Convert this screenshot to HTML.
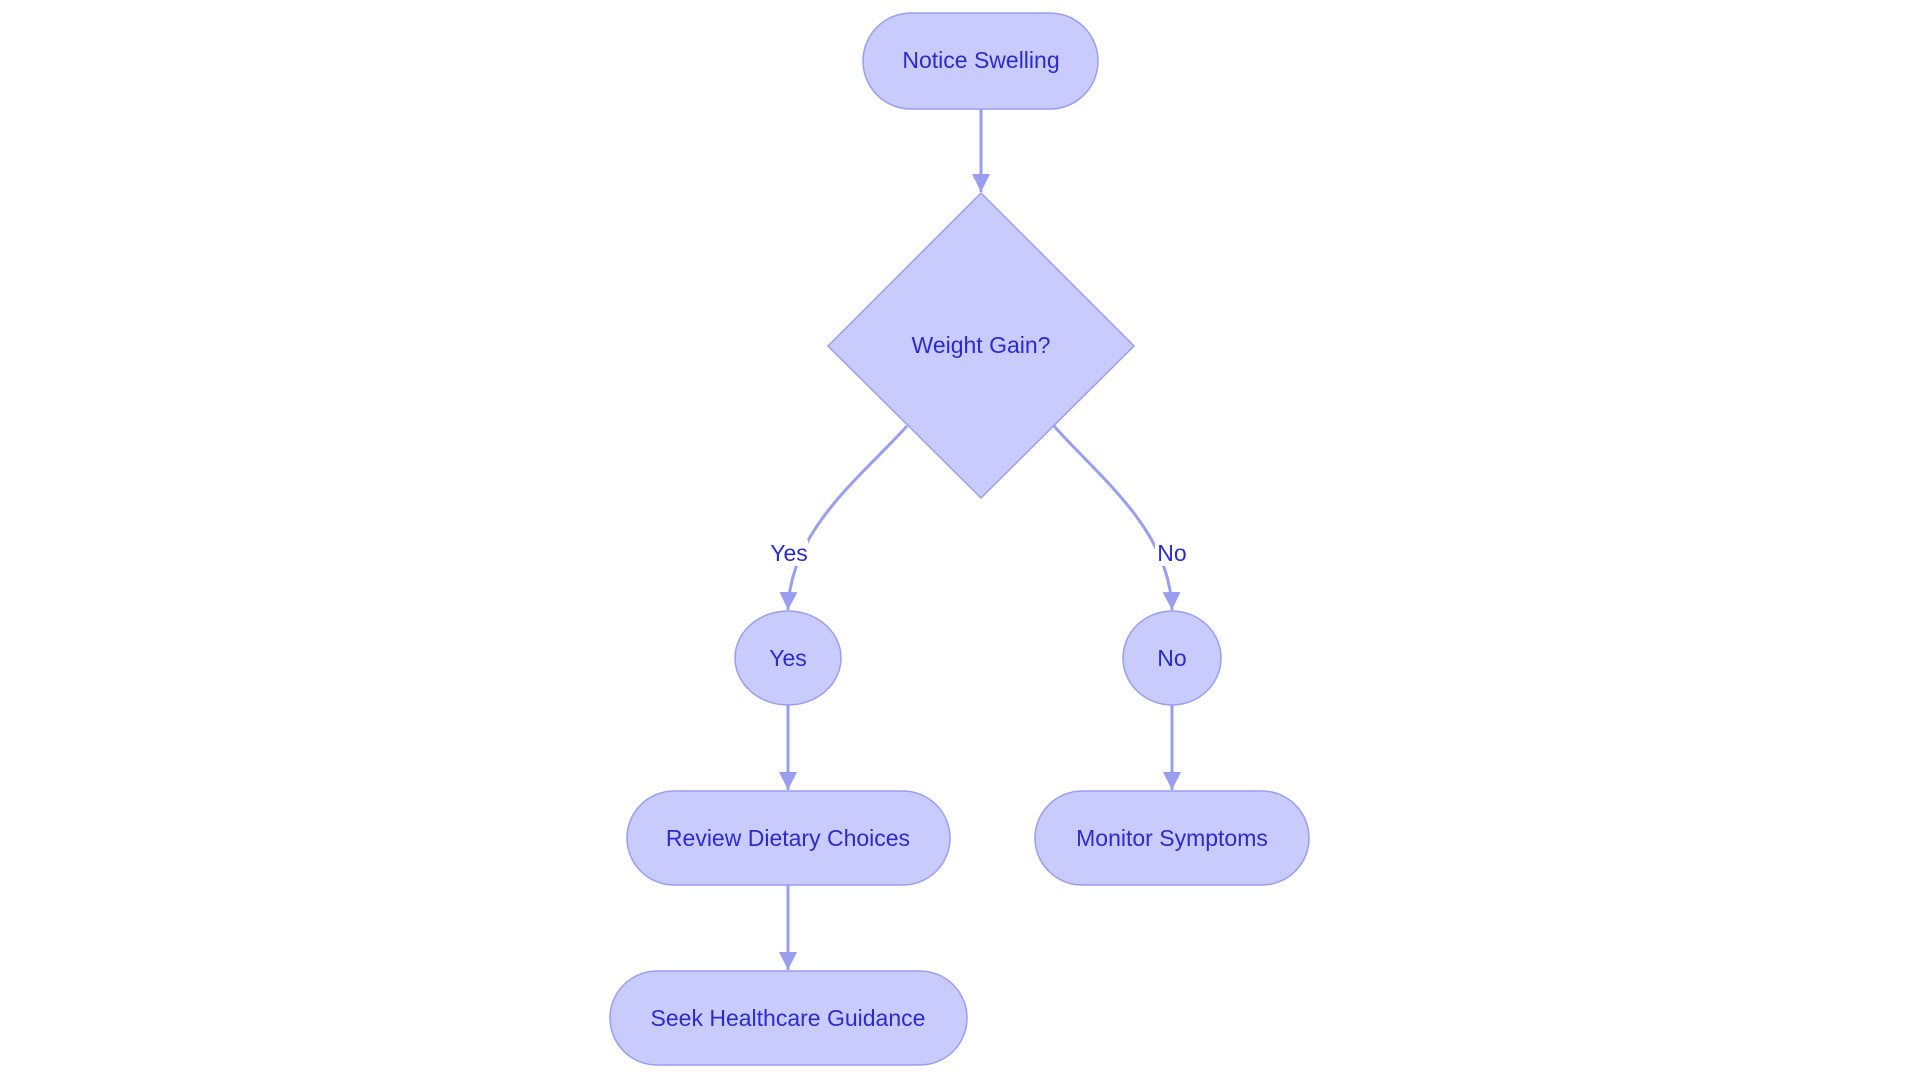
<!DOCTYPE html>
<html><head><meta charset="utf-8"><style>
html,body{margin:0;padding:0;background:#fff;overflow:hidden;}
svg{display:block}
text{font-family:"Liberation Sans",sans-serif;font-size:23px;fill:#2b2bcc;text-anchor:middle;dominant-baseline:central}
.n{fill:#c9cbfd;stroke:#9a9ef0;stroke-width:1.5}
.e{fill:none;stroke:#9a9ef0;stroke-width:3}
</style></head><body>
<svg width="1920" height="1083" viewBox="0 0 1920 1083">
<defs><marker id="a" viewBox="0 0 10 10" refX="10" refY="5" markerWidth="6" markerHeight="6" markerUnits="strokeWidth" orient="auto"><path d="M0,0L10,5L0,10z" fill="#9a9ef0"/></marker></defs>
<path class="e" d="M981,109 L981,192" marker-end="url(#a)"/>
<path class="e" d="M907,426 C860,478 790,530 788,610" marker-end="url(#a)"/>
<path class="e" d="M1054,426 C1100,478 1170,530 1172,610" marker-end="url(#a)"/>
<path class="e" d="M788,705 L788,790" marker-end="url(#a)"/>
<path class="e" d="M1172,705 L1172,790" marker-end="url(#a)"/>
<path class="e" d="M788,885 L788,970" marker-end="url(#a)"/>
<rect x="768" y="540" width="40" height="26" fill="#fff"/>
<rect x="1155" y="540" width="34" height="26" fill="#fff"/>
<text x="789" y="553">Yes</text>
<text x="1172" y="553">No</text>
<rect class="n" x="863" y="13" width="235" height="96" rx="48"/>
<text x="981" y="60">Notice Swelling</text>
<polygon class="n" points="981,193 1134,346 981,498 828,346"/>
<text x="981" y="345">Weight Gain?</text>
<ellipse class="n" cx="788" cy="658" rx="53" ry="47"/>
<text x="788" y="658">Yes</text>
<ellipse class="n" cx="1172" cy="658" rx="49" ry="47"/>
<text x="1172" y="658">No</text>
<rect class="n" x="627" y="791" width="323" height="94" rx="47"/>
<text x="788" y="838">Review Dietary Choices</text>
<rect class="n" x="1035" y="791" width="274" height="94" rx="47"/>
<text x="1172" y="838">Monitor Symptoms</text>
<rect class="n" x="610" y="971" width="357" height="94" rx="47"/>
<text x="788" y="1018">Seek Healthcare Guidance</text>
</svg>
</body></html>
